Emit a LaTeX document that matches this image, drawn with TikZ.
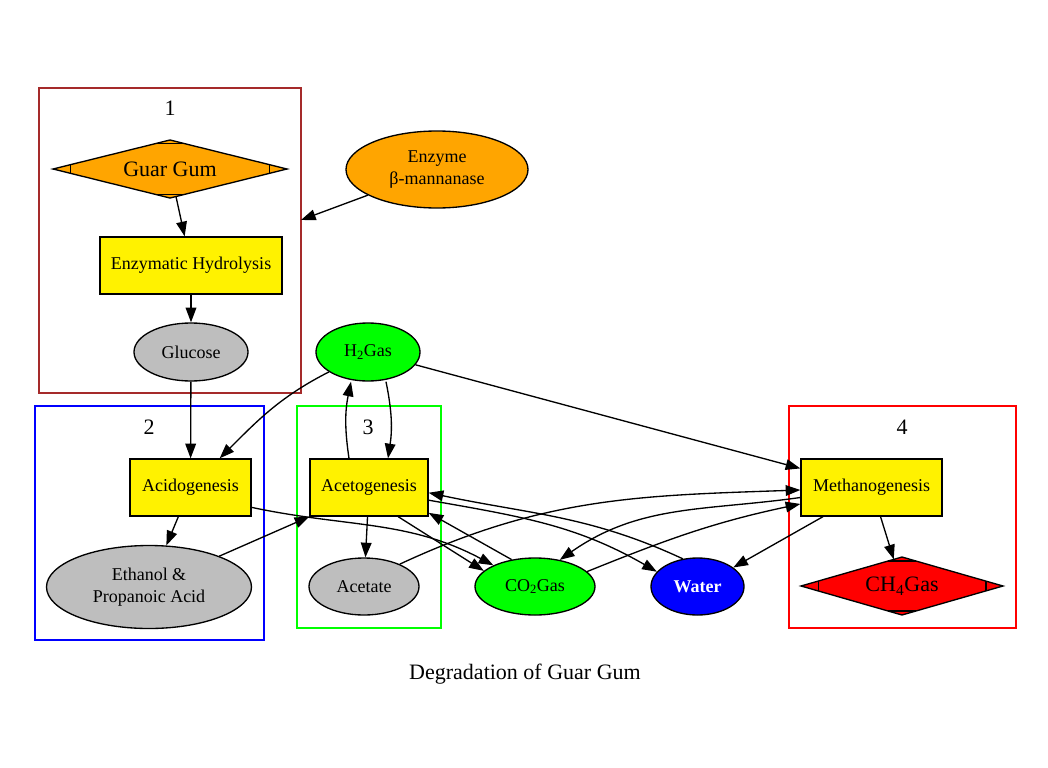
\documentclass[tikz,border=0pt]{standalone}
\usepackage{fontspec}
\setmainfont{Liberation Serif}
\usetikzlibrary{shapes.geometric,arrows.meta,calc}
\definecolor{gumorange}{HTML}{FFA500}
\definecolor{gumgray}{HTML}{BEBEBE}
\definecolor{gumbrown}{HTML}{A52A2A}
\definecolor{gasgreen}{HTML}{00FF00}
\tikzset{
	txt/.style={line width=1pt, inner sep=1pt, font=\fontsize{13.5}{16}\selectfont},
	stage/.style={txt, draw, fill=yellow, minimum width=#1, minimum height=42.75pt},
	blob/.style 2 args={txt, ellipse, draw, minimum width=#1, minimum height=#2, inner sep=0pt},
	mdiam/.style={txt, diamond, draw, aspect=4, outer sep=0pt, minimum width=#1, minimum height=43.5pt, font=\fontsize{16.5}{19}\selectfont},
	cluster/.style={line width=1pt, inner sep=0pt},
	biglabel/.style={inner sep=0pt, font=\fontsize{16.5}{19}\selectfont},
	flow/.style={line width=1pt, -{Triangle[length=11pt,width=8pt]}}
}
\begin{document}
\begin{tikzpicture}[x=0.75pt,y=0.75pt,yscale=-1,xscale=1]
		\useasboundingbox (0,0) rectangle (1048,767);
		\node[cluster, draw=gumbrown, minimum width=196.5pt, minimum height=228.75pt] (c1) at (170,240.5) {};
		\node[cluster, draw=blue, minimum width=171.75pt, minimum height=175.5pt] (c2) at (149.5,523) {};
		\node[cluster, draw=gasgreen, minimum width=108pt, minimum height=166.5pt] (c3) at (369,517) {};
		\node[cluster, draw=red, minimum width=170.25pt, minimum height=166.5pt] (c4) at (902.5,517) {};
		\node[biglabel] (l1) at (170,108) {1};
		\node[biglabel] (l2) at (149,427) {2};
		\node[biglabel] (l3) at (368,427) {3};
		\node[biglabel] (l4) at (902,427) {4};
		\node[mdiam=175.5pt, fill=gumorange] (gg) at (170,169) {Guar Gum};
		\node[blob={136.5pt}{57.75pt}, fill=gumorange, align=center] (enz) at (437,169.5) {Enzyme\\β-mannanase};
		\node[stage=136.5pt] (eh) at (191,265.5) {Enzymatic Hydrolysis};
		\node[blob={85.5pt}{43.5pt}, fill=gumgray] (glu) at (191,352) {Glucose};
		\node[blob={78pt}{43.5pt}, fill=gasgreen] (h2) at (368,352) {H\textsubscript{2}Gas};
		\node[stage=90.75pt] (acido) at (190.5,487.5) {Acidogenesis};
		\node[stage=88.5pt] (aceto) at (369,487.5) {Acetogenesis};
		\node[stage=105.75pt] (metha) at (871.5,487.5) {Methanogenesis};
		\node[blob={153.75pt}{62.25pt}, fill=gumgray, align=center, font=\fontsize{13.5}{17}\selectfont] (eth) at (149,587) {Ethanol \&\\Propanoic Acid};
		\node[blob={82.5pt}{42.75pt}, fill=gumgray] (acet) at (364,586.5) {Acetate};
		\node[blob={90pt}{42.75pt}, fill=gasgreen] (co2) at (535,586.5) {CO\textsubscript{2}Gas};
		\node[blob={69.75pt}{42.75pt}, fill=blue, text=white, font=\fontsize{13.5}{16}\selectfont\bfseries] (wat) at (697.5,586.5) {Water};
		\node[mdiam=151.5pt, fill=red] (ch4) at (902,586) {CH\textsubscript{4}Gas};
		\node[biglabel] (ttl) at (525,674) {Degradation of Guar Gum};
		\foreach \d/\f/\g in {gg/0.11/0.15,ch4/0.14/0.17}{
			\draw[line width=1pt] ($(\d.north)!\f!(\d.west)$) -- ($(\d.north)!\f!(\d.east)$);
			\draw[line width=1pt] ($(\d.south)!\f!(\d.west)$) -- ($(\d.south)!\f!(\d.east)$);
			\draw[line width=1pt] ($(\d.west)!\g!(\d.north)$) -- ($(\d.west)!\g!(\d.south)$);
			\draw[line width=1pt] ($(\d.east)!\g!(\d.north)$) -- ($(\d.east)!\g!(\d.south)$);
		}
		\coordinate (c1in) at (301,220);
		\draw[flow] (gg) -- (eh);
		\draw[flow] (enz) -- (c1in);
		\draw[flow] (eh) -- (glu);
		\draw[flow] (glu) -- (acido);
		\draw[flow] (h2.207) to[out=153,in=-45] (acido.45);
		\draw[flow] ($(aceto.north)+(-20,0)$) to[bend right=10] ($(h2.south)+(-17,0)$);
		\draw[flow] ($(h2.south)+(18,0)$) to[bend right=10] ($(aceto.north)+(19,0)$);
		\draw[flow] (h2) -- (metha.165);
		\draw[flow] (acido) -- (eth);
		\draw[flow] (eth) -- (aceto.south west);
		\draw[flow] (acido.-18) to[out=12,in=-152] (co2.153);
		\draw[flow] (aceto.-45) -- (co2.163);
		\draw[flow] (aceto) -- (acet);
		\draw[flow] (co2.131) -- (aceto.-23);
		\draw[flow] (aceto.-12) to[out=10,in=-150] (wat.160);
		\draw[flow] (wat.118) to[out=-155,in=12] (aceto.-5);
		\draw[flow] (acet.32) to[out=-25,in=178] (metha.182);
		\draw[flow] (metha.188) to[out=172,in=-35] (co2.47);
		\draw[flow] (co2.16) to[out=-22,in=168] (metha.193);
		\draw[flow] (metha.211) -- (wat.28);
		\draw[flow] (metha) -- (ch4);
	\end{tikzpicture}
\end{document}
